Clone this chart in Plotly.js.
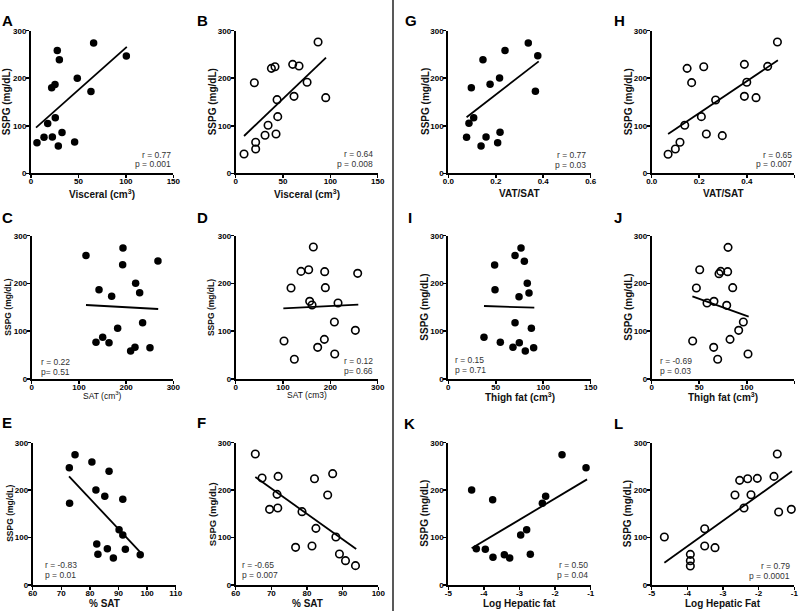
<!DOCTYPE html>
<html>
<head>
<meta charset="utf-8">
<script src="https://cdn.plot.ly/plotly-3.0.1.min.js"></script>
<style>html,body{margin:0;padding:0;background:#fff;}#chart{width:800px;height:611px;}</style>
</head>
<body>
<div id="chart"></div>
<script>
// ---------- DATA ----------
// A: Visceral vs SSPG (filled)
const aX = [6.3, 13.7, 17.6, 22.5, 21.8, 25.3, 25.6, 27.7, 29.9, 28.8, 32.7, 46, 48.8, 63.2, 66, 100.5];
const aY = [64.5, 75.7, 105, 76.4, 180, 187, 117, 258.6, 239, 57.5, 86, 66, 200, 172, 274, 247];
const aLineX = [5.3, 101];
const aLineY = [96, 266];
// B: Visceral vs SSPG (open)
const bX = [8.8, 19.7, 21.1, 21.1, 31, 34.2, 37.7, 41.5, 42.6, 43.7, 44.4, 60.2, 61.6, 66.9, 75.4, 87, 95.1];
const bY = [40.7, 190.6, 65.2, 51.2, 79.9, 101, 220.8, 224.3, 82.7, 154.9, 119.2, 229.2, 161.9, 225.7, 191.4, 276.2, 159.1];
const bLineX = [8.8, 95.4];
const bLineY = [78.5, 243.2];
// C: SAT vs SSPG (filled)
const cX = [115, 193.4, 192.7, 267.5, 142.6, 220.2, 169.4, 228.7, 182.1, 235, 136.2, 150.4, 163.8, 218.8, 209.6, 250.6];
const cY = [258.8, 274.2, 239.3, 247, 187, 200.2, 173, 180.7, 106, 117.9, 76.7, 87.2, 76, 66.3, 58.6, 65.6];
const cLineX = [115, 268];
const cLineY = [154.9, 146.5];
// D: SAT vs SSPG (open)
const dX = [164, 138, 154.2, 188, 257.7, 116.9, 189.4, 156.3, 161.3, 216.2, 208.5, 252.8, 102.1, 187.3, 173.2, 123.9, 209.2];
const dY = [276.3, 225.3, 228.8, 224.7, 221.2, 190.5, 191.2, 162.6, 154.9, 159.1, 119.3, 101.9, 79.5, 83, 66.3, 41.2, 52.3];
const dLineX = [100.7, 259];
const dLineY = [147.9, 155.6];
// E: % SAT vs SSPG (filled)
const eX = [74.8, 72.8, 80.7, 86.7, 72.9, 82.1, 85.2, 91.5, 90.2, 91.5, 82.4, 86.1, 92.4, 82.8, 88.2, 97.6];
const eY = [274.7, 247.3, 259.3, 239.6, 172.1, 200.2, 186.9, 180.6, 116.6, 105.4, 86.4, 76.6, 75.2, 64.6, 56.9, 63.9];
const eLineX = [72.7, 98];
const eLineY = [229, 66.7];
// F: % SAT vs SSPG (open)
const fX = [65.5, 67.4, 71.9, 71.6, 69.5, 71.8, 78.6, 82.1, 87.2, 85.8, 82.5, 76.8, 81.4, 88.1, 89.1, 90.8, 93.6];
const fY = [276.1, 225.5, 229, 191.1, 159.5, 162.3, 154.6, 224.1, 234.7, 189.7, 119.4, 79.4, 82.2, 101.2, 65.3, 51.3, 40.8];
const fLineX = [65.5, 93.8];
const fLineY = [227.6, 75.9];
// G: VAT/SAT vs SSPG (filled)
const gX = [0.077, 0.087, 0.097, 0.107, 0.146, 0.138, 0.159, 0.176, 0.208, 0.218, 0.216, 0.239, 0.337, 0.377, 0.367];
const gY = [75.7, 105.1, 180.1, 117.1, 239, 57.5, 76.4, 187.1, 64.5, 86.2, 200.5, 258.6, 274, 247.4, 172.4];
const gLineX = [0.077, 0.381];
const gLineY = [117.8, 235.5];
// H: VAT/SAT vs SSPG (open)
const hX = [0.069, 0.0995, 0.119, 0.139, 0.149, 0.168, 0.219, 0.209, 0.23, 0.269, 0.297, 0.39, 0.39, 0.4, 0.439, 0.488, 0.529];
const hY = [40, 51.2, 65.2, 101, 220.8, 190.7, 224.3, 119.2, 82.7, 154.2, 79.2, 229.2, 161.9, 191.4, 159.1, 225, 276.2];
const hLineX = [0.069, 0.531];
const hLineY = [82.7, 237.6];
// I: Thigh fat vs SSPG (filled)
const iX = [37.6, 48.8, 49.2, 54.8, 70.3, 76.6, 80.1, 83.2, 85, 74.5, 70.3, 87.5, 68.1, 74.8, 81.1, 89.9];
const iY = [87.2, 238.6, 187, 76.7, 258.8, 274.2, 246.3, 200.2, 180, 172.3, 117.9, 106, 66.3, 76, 58.6, 65.6];
const iLineX = [37.6, 90.6];
const iLineY = [152.8, 149.3];
// J: Thigh fat vs SSPG (open)
const jX = [80.3, 50.5, 72.6, 70.8, 79.9, 47, 85.2, 65.5, 58.2, 78.9, 96.4, 91.5, 43.1, 82.4, 65.2, 69.4, 101.3];
const jY = [275.6, 228.8, 225.3, 220.5, 224.7, 190.5, 191.2, 162.6, 159.1, 154.2, 119.3, 101.9, 79.5, 83, 66.3, 41.2, 52.3];
const jLineX = [42.8, 102];
const jLineY = [173, 130.5];
// K: Log hepatic fat vs SSPG (filled)
const kX = [-4.344, -4.213, -3.96, -3.754, -3.745, -3.426, -3.276, -2.967, -2.799, -2.696, -2.358, -2.265, -1.806, -1.131];
const kY = [200.2, 76.6, 75.2, 179.9, 58.3, 63.9, 56.9, 105.4, 116.6, 64.6, 172.1, 186.9, 274.7, 247.3];
const kLineX = [-4.344, -1.103];
const kLineY = [77.3, 222.7];
// L: Log hepatic fat vs SSPG (open)
const lX = [-4.645, -3.916, -3.916, -3.916, -3.514, -3.514, -3.224, -2.664, -2.533, -2.411, -2.308, -2.215, -2.037, -1.57, -1.477, -1.439, -1.084];
const lY = [101.2, 64.6, 51.3, 40, 118.7, 82.2, 78.7, 189.7, 220.6, 162.3, 224.1, 190.4, 224.8, 229, 276.1, 153.9, 159.5];
const lLineX = [-4.645, -1.065];
const lLineY = [47.1, 239.6];

const yTicks = [0, 100, 200, 300];
const statsText = {
  A: ["r = 0.77", "p = 0.001"], B: ["r = 0.64", "p = 0.008"],
  C: ["r = 0.22", "p= 0.51"],   D: ["r = 0.12", "p= 0.66"],
  E: ["r = -0.83", "p = 0.01"], F: ["r = -0.65", "p = 0.007"],
  G: ["r = 0.77", "p = 0.03"],  H: ["r = 0.65", "p = 0.007"],
  I: ["r = 0.15", "p = 0.71"],  J: ["r = -0.69", "p = 0.03"],
  K: ["r = 0.50", "p = 0.04"],  L: ["r = 0.79", "p = 0.0001"]
};
const xTitles = {
  A: "Visceral (cm<sup>3</sup>)", B: "Visceral (cm<sup>3</sup>)",
  C: "SAT (cm<sup>3</sup>)", D: "SAT (cm3)",
  E: "% SAT", F: "% SAT",
  G: "VAT/SAT", H: "VAT/SAT",
  I: "Thigh fat (cm<sup>3</sup>)", J: "Thigh fat (cm<sup>3</sup>)",
  K: "Log Hepatic fat", L: "Log Hepatic Fat"
};
const yTitle = "SSPG (mg/dL)";

// ---------- LAYOUT HELPERS ----------
const W = 800, H = 611;
const px = v => v / W;
const py = v => 1 - v / H;
const FONT = "Liberation Sans, Arial, Helvetica, sans-serif";

const panels = [
  {id:'A', x:aX, y:aY, lx:aLineX, ly:aLineY, open:false, xd:[31,173.3], yd:[30.7,173.3], xr:[0,150], xt:[0,50,100,150], fmt:'',
   letter:[0,20], ytx:7.3, xty:193.8, yts:[10,'bold'], xts:[10,'bold'], st:{side:'r', x:173.3, y:159.5}},
  {id:'B', x:bX, y:bY, lx:bLineX, ly:bLineY, open:true, xd:[235.7,377.7], yd:[30.7,173.3], xr:[0,150], xt:[0,50,100,150], fmt:'',
   letter:[195,20], ytx:213.3, xty:193.8, yts:[10,'bold'], xts:[10,'bold'], st:{side:'r', x:375, y:158.7}},
  {id:'G', x:gX, y:gY, lx:gLineX, ly:gLineY, open:false, xd:[448.3,590.7], yd:[30.7,173.3], xr:[0,0.6], xt:[0,0.2,0.4,0.6], fmt:'.1f',
   letter:[403,20], ytx:426, xty:193.8, yts:[10,'bold'], xts:[10,'bold'], st:{side:'r', x:588.3, y:160}},
  {id:'H', x:hX, y:hY, lx:hLineX, ly:hLineY, open:true, xd:[651.7,794.3], yd:[30.7,173.3], xr:[0,0.6], xt:[0,0.2,0.4,0.6], fmt:'.1f',
   letter:[612,20], ytx:629.3, xty:193.8, yts:[10,'bold'], xts:[10,'bold'], st:{side:'r', x:794, y:159.5}},
  {id:'C', x:cX, y:cY, lx:cLineX, ly:cLineY, open:false, xd:[31.7,173.3], yd:[235.7,379], xr:[0,300], xt:[0,100,200,300], fmt:'',
   letter:[0,217], ytx:8.3, xty:395.5, yts:[8.5,'bold'], xts:[8.5,'normal'], st:{side:'l', x:39, y:366.5}},
  {id:'D', x:dX, y:dY, lx:dLineX, ly:dLineY, open:true, xd:[235.7,377.7], yd:[235.7,379], xr:[0,300], xt:[0,100,200,300], fmt:'',
   letter:[195,217], ytx:211.7, xty:395, yts:[8.5,'bold'], xts:[8.5,'normal'], st:{side:'r', x:375, y:365.5}},
  {id:'I', x:iX, y:iY, lx:iLineX, ly:iLineY, open:false, xd:[448.3,590.7], yd:[235.7,379], xr:[0,150], xt:[0,50,100,150], fmt:'',
   letter:[406,218], ytx:424.3, xty:397, yts:[10,'bold'], xts:[10,'bold'], st:{side:'l', x:453.3, y:365}},
  {id:'J', x:jX, y:jY, lx:jLineX, ly:jLineY, open:true, xd:[651.7,794.3], yd:[235.7,379], xr:[0,150], xt:[0,50,100,150], fmt:'',
   letter:[612,218], ytx:628.3, xty:397, yts:[10,'bold'], xts:[10,'bold'], st:{side:'l', x:658.3, y:365.7}},
  {id:'E', x:eX, y:eY, lx:eLineX, ly:eLineY, open:false, xd:[32.7,175.7], yd:[442.7,585], xr:[60,110], xt:[60,70,80,90,100,110], fmt:'',
   letter:[0,422], ytx:10, xty:603.3, yts:[8.5,'bold'], xts:[10,'bold'], st:{side:'l', x:43.3, y:569.5}},
  {id:'F', x:fX, y:fY, lx:fLineX, ly:fLineY, open:true, xd:[235.7,378.3], yd:[442.7,585], xr:[60,100], xt:[60,70,80,90,100], fmt:'',
   letter:[195,422], ytx:213.3, xty:603.3, yts:[9.5,'bold'], xts:[10,'bold'], st:{side:'l', x:240, y:570}},
  {id:'K', x:kX, y:kY, lx:kLineX, ly:kLineY, open:false, xd:[448.3,590.7], yd:[442.7,585], xr:[-5,-1], xt:[-5,-4,-3,-2,-1], fmt:'',
   letter:[402,423], ytx:425, xty:603.3, yts:[10,'bold'], xts:[10,'bold'], st:{side:'r', x:590, y:570}},
  {id:'L', x:lX, y:lY, lx:lLineX, ly:lLineY, open:true, xd:[651.7,794.3], yd:[442.7,585], xr:[-5,-1], xt:[-5,-4,-3,-2,-1], fmt:'',
   letter:[612,424], ytx:628.3, xty:603.3, yts:[10,'bold'], xts:[10,'bold'], st:{side:'r', x:791.7, y:571.3}}
];

const data = [];
const layout = {
  width: W, height: H,
  margin: {l:0, r:0, t:0, b:0},
  paper_bgcolor: '#fff', plot_bgcolor: 'rgba(0,0,0,0)',
  showlegend: false,
  font: {family: FONT, color: '#000'},
  annotations: [],
  shapes: [{type:'line', xref:'paper', yref:'paper', x0:px(393), x1:px(393), y0:0, y1:1,
            line:{color:'#222', width:1.5}}]
};

panels.forEach((p, i) => {
  const n = i + 1;
  const xa = 'x' + (n === 1 ? '' : n);
  const ya = 'y' + (n === 1 ? '' : n);
  const xKey = 'xaxis' + (n === 1 ? '' : n);
  const yKey = 'yaxis' + (n === 1 ? '' : n);
  const axCommon = {
    showgrid: false, zeroline: false, showline: true, linecolor: '#000', linewidth: 2,
    ticks: 'outside', ticklen: 3, tickwidth: 1.5, tickcolor: '#000',
    tickfont: {family: FONT, size: 8, color: '#000', weight: 'bold'},
    fixedrange: true
  };
  layout[xKey] = Object.assign({}, axCommon, {
    domain: [px(p.xd[0]), px(p.xd[1])], range: p.xr, anchor: ya,
    tickmode: 'array', tickvals: p.xt, ticktext: p.xt.map(v => p.fmt ? v.toFixed(1) : String(v)),
    ticklabelstandoff: -4
  });
  layout[yKey] = Object.assign({}, axCommon, {
    domain: [py(p.yd[1]), py(p.yd[0])], range: [0, 300], anchor: xa,
    tickmode: 'array', tickvals: yTicks, ticklabelstandoff: -2
  });
  data.push({
    type: 'scatter', mode: 'markers', x: p.x, y: p.y, xaxis: xa, yaxis: ya, cliponaxis: false,
    marker: p.open
      ? {symbol: 'circle-open', size: 7.5, color: '#000', line: {width: 1.6, color: '#000'}}
      : {symbol: 'circle', size: 7.5, color: '#000', line: {width: 0}},
    hoverinfo: 'skip'
  });
  data.push({
    type: 'scatter', mode: 'lines', x: p.lx, y: p.ly, xaxis: xa, yaxis: ya,
    line: {color: '#000', width: 1.8}, hoverinfo: 'skip'
  });
  layout.annotations.push({
    xref: 'paper', yref: 'paper', x: px(p.letter[0]), y: py(p.letter[1]),
    xanchor: 'left', yanchor: 'middle', showarrow: false, text: p.id,
    font: {family: FONT, size: 15, color: '#000', weight: 'bold'}
  });
  layout.annotations.push({
    xref: 'paper', yref: 'paper', x: px(p.ytx), y: py((p.yd[0] + p.yd[1]) / 2),
    xanchor: 'center', yanchor: 'middle', textangle: -90, showarrow: false, text: yTitle,
    font: {family: FONT, size: p.yts[0], color: '#111', weight: p.yts[1]}
  });
  layout.annotations.push({
    xref: 'paper', yref: 'paper', x: px((p.xd[0] + p.xd[1]) / 2), y: py(p.xty),
    xanchor: 'center', yanchor: 'middle', showarrow: false, text: xTitles[p.id],
    font: {family: FONT, size: p.xts[0], color: '#111', weight: p.xts[1]}
  });
  statsText[p.id].forEach((t, k) => {
    layout.annotations.push({
      xref: 'paper', yref: 'paper', x: px(p.st.x), y: py(p.st.y + (k === 0 ? -5 : 5)),
      xanchor: p.st.side === 'r' ? 'right' : 'left', yanchor: 'middle',
      align: p.st.side === 'r' ? 'right' : 'left', showarrow: false, text: t,
      font: {family: FONT, size: 8.5, color: '#333'}
    });
  });
});

Plotly.newPlot('chart', data, layout, {staticPlot: true, displayModeBar: false});
</script>
</body>
</html>
